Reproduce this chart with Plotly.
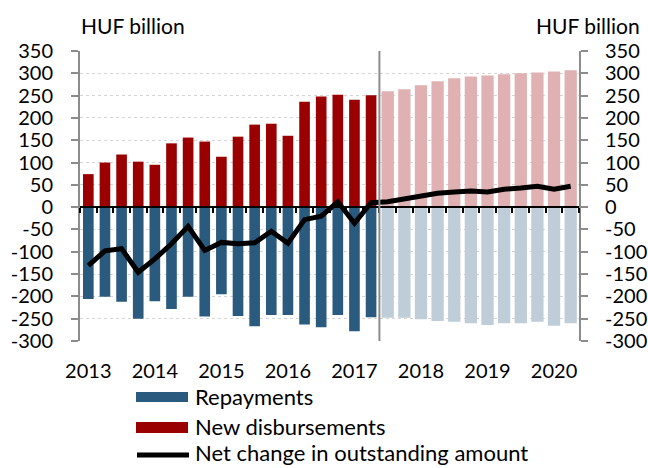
import plotly.graph_objects as go

# ---------------- data ----------------
quarters = list(range(30))  # 2013Q1 .. 2020Q2
n_hist = 18                  # 2013Q1 .. 2017Q2 actual, rest forecast
year_ticks = [0, 4, 8, 12, 16, 20, 24, 28]
year_labels = ["2013", "2014", "2015", "2016", "2017", "2018", "2019", "2020"]
y_ticks = [-300, -250, -200, -150, -100, -50, 0, 50, 100, 150, 200, 250, 300, 350]
y_labels = ["-300", "-250", "-200", "-150", "-100", "-50", "0", "50", "100", "150", "200", "250", "300", "350"]

new_disbursements = [74, 100, 118, 102, 95, 143, 156, 147, 113, 158, 185, 187, 160, 236, 248, 252, 241, 251,
                     260, 264, 273, 282, 289, 293, 295, 298, 300, 302, 304, 307]
repayments = [-206, -201, -212, -250, -211, -228, -201, -245, -195, -244, -267, -242, -242, -263, -269, -242, -278, -247,
              -248, -248, -251, -255, -257, -260, -264, -260, -260, -257, -266, -260]
net_change = [-131, -98, -93, -146, -116, -82, -43, -97, -79, -82, -80, -54, -81, -28, -20, 12, -36, 10,
              12, 19, 25, 31, 34, 36, 34, 40, 43, 47, 40, 47]

# ---------------- style ----------------
FONT = "Lato"
RED, RED_F = "#9a0000", "#e0b1b3"
BLUE, BLUE_F = "#2a5b7f", "#bfcdd9"
AXIS_GREY = "#8c8c8c"
W, H = 648, 468
ML, MR, MT, MB = 80, 69, 51, 127
PW, PH = W - ML - MR, H - MT - MB
Y_RANGE = [-300, 350]

def xp(px):
    return (px - ML) / PW

def yp(py):
    return (H - MB - py) / PH

red_cols = [RED if i < n_hist else RED_F for i in quarters]
blue_cols = [BLUE if i < n_hist else BLUE_F for i in quarters]
widths = [0.64 if i < n_hist else 0.74 for i in quarters]

fig = go.Figure()
fig.add_trace(go.Bar(x=quarters, y=repayments, marker=dict(color=blue_cols, line=dict(width=0)),
                     width=widths, name="Repayments", showlegend=False))
fig.add_trace(go.Bar(x=quarters, y=new_disbursements, marker=dict(color=red_cols, line=dict(width=0)),
                     width=widths, name="New disbursements", showlegend=False))
fig.add_trace(go.Scatter(x=quarters, y=net_change, mode="lines",
                         line=dict(color="black", width=5), name="Net change in outstanding amount",
                         showlegend=False))
# helper trace so the zero-line axis and right axis get drawn
fig.add_trace(go.Scatter(x=[0], y=[0], xaxis="x2", yaxis="y2", mode="markers",
                         marker=dict(opacity=0), hoverinfo="skip", showlegend=False))

tick_font = dict(family=FONT, size=20, color="black")
fig.update_layout(
    width=W, height=H,
    margin=dict(l=ML, r=MR, t=MT, b=MB, autoexpand=False),
    paper_bgcolor="white", plot_bgcolor="white",
    barmode="overlay",
    showlegend=False,
    font=dict(family=FONT, size=20, color="black"),
    xaxis=dict(range=[-0.5, 29.5], tickvals=year_ticks, ticktext=year_labels,
               showline=False, ticks="", showgrid=False, zeroline=False, automargin=False,
               tickfont=tick_font, ticklabelstandoff=16),
    xaxis2=dict(range=[-0.5, 29.5], overlaying="x", anchor="free",
                position=(0 - Y_RANGE[0]) / (Y_RANGE[1] - Y_RANGE[0]),
                showline=True, linecolor="black", linewidth=2, automargin=False,
                ticks="outside", tickvals=[i - 0.5 for i in range(31)], ticklen=5,
                tickwidth=2, tickcolor="black", showticklabels=False,
                showgrid=False, zeroline=False),
    yaxis=dict(range=Y_RANGE, tickvals=y_ticks, ticktext=y_labels,
               showline=True, linecolor=AXIS_GREY, linewidth=2,
               ticks="outside", ticklen=7, tickwidth=2, tickcolor=AXIS_GREY, automargin=False,
               showgrid=True, gridcolor="#d4d4d4", griddash="dot", gridwidth=1,
               zeroline=False, tickfont=tick_font, ticklabelstandoff=14),
    yaxis2=dict(range=Y_RANGE, tickvals=y_ticks, ticktext=y_labels,
                overlaying="y", side="right", anchor="x",
                showline=True, linecolor=AXIS_GREY, linewidth=2, automargin=False,
                ticks="outside", ticklen=7, tickwidth=2, tickcolor=AXIS_GREY,
                showgrid=False, zeroline=False, tickfont=tick_font, ticklabelstandoff=13),
)

# forecast divider
fig.add_shape(type="line", xref="x", yref="paper", x0=n_hist - 0.5, x1=n_hist - 0.5, y0=0, y1=1,
              line=dict(color=AXIS_GREY, width=2))

# axis unit labels
ann_font = dict(family=FONT, size=21, color="black")
leg_font = dict(family=FONT, size=22, color="black")
fig.add_annotation(text="HUF billion", xref="paper", yref="paper", x=xp(79), y=yp(25),
                   xanchor="left", yanchor="middle", showarrow=False, font=ann_font)
fig.add_annotation(text="HUF billion", xref="paper", yref="paper", x=xp(642), y=yp(25),
                   xanchor="right", yanchor="middle", showarrow=False, font=ann_font)

# manual legend
fig.add_shape(type="rect", xref="paper", yref="paper", x0=xp(136), x1=xp(188), y0=yp(392), y1=yp(402),
              fillcolor=BLUE, line=dict(width=0))
fig.add_shape(type="rect", xref="paper", yref="paper", x0=xp(136), x1=xp(188), y0=yp(422), y1=yp(433),
              fillcolor=RED, line=dict(width=0))
fig.add_shape(type="line", xref="paper", yref="paper", x0=xp(137), x1=xp(189), y0=yp(455), y1=yp(455),
              line=dict(color="black", width=5))
for label, cy in [("Repayments", 396), ("New disbursements", 426), ("Net change in outstanding amount", 453)]:
    fig.add_annotation(text=label, xref="paper", yref="paper", x=xp(193), y=yp(cy),
                       xanchor="left", yanchor="middle", showarrow=False, font=leg_font)

fig.write_html("out.html", config={"displayModeBar": False},
               post_script="document.body.style.margin='0';")
